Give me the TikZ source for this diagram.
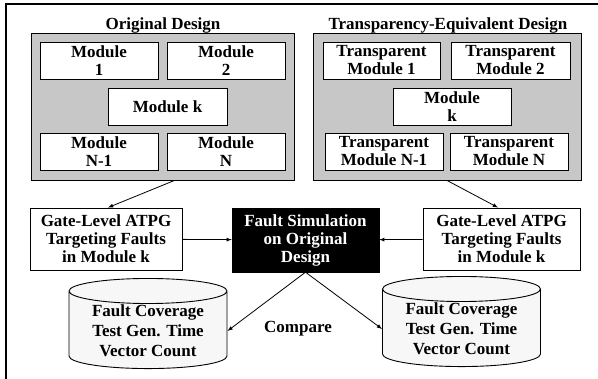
\documentclass[tikz,border=0pt]{standalone}
\usepackage{fontspec}
\setmainfont{Liberation Serif}
\usetikzlibrary{shapes.geometric}

\begin{document}
\begin{tikzpicture}[x=1pt,y=-1pt,
    font=\fontsize{17}{18}\selectfont\bfseries,
    module/.style={draw, line width=0.9pt, fill=white, align=center,
        inner sep=1pt, minimum width=118pt, minimum height=37pt},
    design/.style={draw, line width=0.9pt, fill=black!22, minimum height=147pt},
    atpg/.style={draw, line width=0.9pt, fill=white, align=center,
        inner sep=1pt, minimum height=62pt},
    result/.style={draw, line width=0.9pt, fill=black!3, cylinder,
        shape border rotate=90, aspect=0.22, align=center, inner sep=1pt,
        minimum width=158pt, minimum height=88pt}]

    \useasboundingbox (0,0) rectangle (598,379);

    % Frame
    \draw[line width=1.1pt] (6,379) -- (6,4) -- (598,4);

    % Original design
    \node (origtitle) at (163,25) {Original Design};
    \node[design, minimum width=263pt] (orig) at (162.5,106.5) {};
    \node[module] (mod1) at (99,60.5) {Module\\1};
    \node[module] (mod2) at (226,60.5) {Module\\2};
    \node[module, minimum width=119pt] (modk) at (167.5,106.5) {Module k};
    \node[module] (modn1) at (99,151.5) {Module\\N-1};
    \node[module] (modn) at (226,151.5) {Module\\N};

    % Transparency-equivalent design
    \node (transtitle) at (448,25) {Transparency-Equivalent Design};
    \node[design, minimum width=268pt] (trans) at (447,106.5) {};
    \node[module, minimum width=117pt] (tmod1) at (381.5,60.5) {Transparent\\Module 1};
    \node[module, minimum width=119pt] (tmod2) at (510.5,60.5) {Transparent\\Module 2};
    \node[module] (tmodk) at (452,106.5) {Module\\k};
    \node[module] (tmodn1) at (384,151.5) {Transparent\\Module N-1};
    \node[module] (tmodn) at (509,151.5) {Transparent\\Module N};

    % ATPG and fault simulation
    \node[atpg, minimum width=152pt] (atpgl) at (106,239)
        {Gate-Level ATPG\\Targeting Faults\\in Module k};
    \node[draw, fill=black, text=white, align=center, inner sep=1pt,
        minimum width=147pt, minimum height=64pt] (fsim) at (305.5,240)
        {Fault Simulation\\on Original\\Design};
    \node[atpg, minimum width=157pt] (atpgr) at (501.5,239)
        {Gate-Level ATPG\\Targeting Faults\\in Module k};

    % Results
    \node[result] (resl) at (148,331)
        {Fault Coverage\\[2pt]Test Gen. Time\\[2pt]Vector Count};
    \node[result] (resr) at (461.5,329)
        {Fault Coverage\\[2pt]Test Gen. Time\\[2pt]Vector Count};
    \node (compare) at (298,329) {Compare};

    % Arrows
    \draw[->,>=latex, line width=0.8pt] ([xshift=12pt]orig.south) -- ([xshift=2pt]atpgl.north);
    \draw[->,>=latex, line width=0.8pt] (trans.south) -- ([xshift=-3.5pt]atpgr.north);
    \draw[->,>=latex, line width=0.8pt] (atpgl) -- (fsim);
    \draw[->,>=latex, line width=0.8pt] (atpgr) -- (fsim);
    \draw[->,>=latex, line width=0.8pt] (fsim.south) -- (resl.east);
    \draw[->,>=latex, line width=0.8pt] (fsim.south) -- (resr.west);
\end{tikzpicture}
\end{document}
